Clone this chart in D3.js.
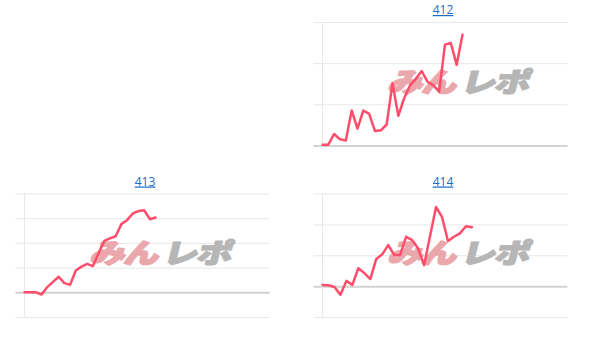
<!DOCTYPE html>
<html>
<head>
<meta charset="utf-8">
<script src="https://cdn.jsdelivr.net/npm/d3@7/dist/d3.min.js"></script>
<style>
body { margin: 0; background: #fff; }
.title { font-family: "Open Sans", "Liberation Sans", sans-serif; font-size: 12px; fill: #1a6cc8; text-decoration: underline; }
.grid line { stroke: #e8e8e8; stroke-width: 1; }
.grid .zero line { stroke: #d2d2d2; stroke-width: 2; }
.mark { font-family: "Noto Sans CJK JP", sans-serif; font-weight: 900; font-size: 27px; stroke-width: 1.6; stroke-linejoin: round; letter-spacing: -1px; }
</style>
</head>
<body>
<script>
// chart codes (titles)
var codes = ["412", "413", "414"];
// daily values, one array per chart
var values412 = [2, 2, 28, 15, 12, 85, 41, 85, 77, 35, 37, 51, 151, 72, 115, 146, 162, 181, 155, 146, 131, 245, 249, 196, 269];
var values413 = [0, 0, 0, -9, 21, 42, 63, 37, 30, 88, 104, 115, 106, 158, 208, 218, 227, 276, 292, 319, 329, 332, 296, 303];
var values414 = [4, 3, -3, -28, 17, 4, 58, 42, 23, 88, 103, 133, 101, 101, 160, 149, 122, 68, 162, 256, 224, 146, 160, 171, 194, 191];
// y tick values per chart
var ticks412 = [0, 100, 200, 300];
var ticks413 = [-100, 0, 100, 200, 300, 400];
var ticks414 = [-100, 0, 100, 200, 300];
// number of day slots on the x axis of each chart
var slots = [43, 44, 42];

var allValues = [values412, values413, values414];
var allTicks = [ticks412, ticks413, ticks414];
// grid cell each chart sits in (cell 0, top left, is empty)
var cells = [1, 2, 3];

var svgWidth = 598;
var svgHeight = 338;
var cellW = 298;
var cellH = 171.5;
var margin = { top: 22, left: 24.5 };
var width = 245;
var height = 123.5;

var svg = d3.select("body")
    .append("svg")
    .attr("width", svgWidth)
    .attr("height", svgHeight);

codes.forEach(function(code, k) {
    var data = allValues[k];
    var tickVals = allTicks[k];
    var col = cells[k] % 2;
    var row = Math.floor(cells[k] / 2);

    var g = svg.append("g")
        .attr("transform", `translate(${col * cellW + margin.left}, ${row * cellH + margin.top})`);

    var x = d3.scaleLinear()
        .domain([0, slots[k] - 1])
        .range([0, width]);
    var y = d3.scaleLinear()
        .domain(d3.extent(tickVals))
        .range([height, 0]);

    // title
    g.append("text")
        .attr("class", "title")
        .attr("x", width / 2 - 2)
        .attr("y", -8)
        .attr("text-anchor", "middle")
        .text(code);

    // horizontal grid lines
    var grid = g.append("g")
        .attr("class", "grid")
        .attr("transform", "translate(-9, 0)")
        .call(d3.axisLeft(y).tickValues(tickVals).tickSize(-(width + 9)).tickFormat(""));
    grid.select(".domain").remove();
    grid.selectAll(".tick").classed("zero", d => d === 0);

    // left axis line
    g.append("line")
        .attr("x1", 0).attr("x2", 0)
        .attr("y1", 0).attr("y2", height)
        .attr("stroke", "#e8e8e8");

    // watermark
    var wm = g.append("g")
        .attr("transform", `translate(${width / 2 + 14}, ${height / 2 - 4}) skewX(-14) scale(1.3, 1)`);
    wm.append("text")
        .attr("class", "mark")
        .attr("x", -1)
        .attr("text-anchor", "end")
        .attr("dominant-baseline", "central")
        .attr("fill", "#eaa7ac")
        .attr("stroke", "#eaa7ac")
        .text("みん");
    wm.append("text")
        .attr("class", "mark")
        .attr("x", 3)
        .attr("text-anchor", "start")
        .attr("dominant-baseline", "central")
        .attr("fill", "#b6b6b6")
        .attr("stroke", "#b6b6b6")
        .text("レポ");

    // data line
    var line = d3.line()
        .x((d, i) => x(i))
        .y(d => y(d));

    g.append("path")
        .datum(data)
        .attr("d", line)
        .attr("fill", "none")
        .attr("stroke", "#ff4d6b")
        .attr("stroke-width", 2.5)
        .attr("stroke-linejoin", "round")
        .attr("stroke-linecap", "round");
});
</script>
</body>
</html>
